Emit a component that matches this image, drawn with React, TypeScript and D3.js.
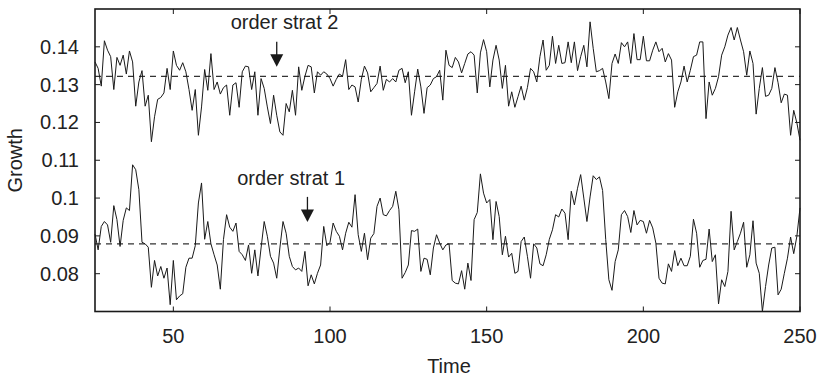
import React from "react";
import * as d3 from "d3";

const timeStart = 25;
const strat2: number[] = [
  0.1360, 0.1343, 0.1296, 0.1416, 0.1391, 0.1374, 0.1287, 0.1372, 0.1351, 0.1378,
  0.1328, 0.1389, 0.1360, 0.1243, 0.1307, 0.1337, 0.1243, 0.1272, 0.1149, 0.1215,
  0.1261, 0.1266, 0.1278, 0.1343, 0.1287, 0.1389, 0.1351, 0.1338, 0.1358, 0.1334,
  0.1287, 0.1232, 0.1287, 0.1166, 0.1241, 0.1340, 0.1285, 0.1382, 0.1287, 0.1307,
  0.1275, 0.1292, 0.1299, 0.1219, 0.1299, 0.1305, 0.1240, 0.1334, 0.1349, 0.1347,
  0.1287, 0.1334, 0.1219, 0.1316, 0.1290, 0.1241, 0.1197, 0.1272, 0.1219, 0.1175,
  0.1166, 0.1250, 0.1228, 0.1285, 0.1219, 0.1347, 0.1285, 0.1322, 0.1351, 0.1347,
  0.1278, 0.1334, 0.1325, 0.1334, 0.1328, 0.1316, 0.1296, 0.1314, 0.1328, 0.1322,
  0.1366, 0.1287, 0.1299, 0.1294, 0.1254, 0.1314, 0.1349, 0.1331, 0.1281, 0.1292,
  0.1303, 0.1349, 0.1285, 0.1314, 0.1307, 0.1316, 0.1307, 0.1338, 0.1343, 0.1305,
  0.1334, 0.1219, 0.1281, 0.1341, 0.1294, 0.1224, 0.1292, 0.1299, 0.1316, 0.1321,
  0.1338, 0.1259, 0.1391, 0.1351, 0.1345, 0.1372, 0.1360, 0.1331, 0.1356, 0.1381,
  0.1387, 0.1378, 0.1278, 0.1384, 0.1419, 0.1387, 0.1294, 0.1365, 0.1404, 0.1365,
  0.1290, 0.1351, 0.1243, 0.1281, 0.1240, 0.1268, 0.1296, 0.1259, 0.1292, 0.1343,
  0.1334, 0.1307, 0.1374, 0.1418, 0.1338, 0.1351, 0.1428, 0.1356, 0.1404, 0.1356,
  0.1358, 0.1413, 0.1358, 0.1413, 0.1337, 0.1374, 0.1404, 0.1347, 0.1466, 0.1396,
  0.1334, 0.1337, 0.1343, 0.1307, 0.1263, 0.1356, 0.1381, 0.1356, 0.1411, 0.1400,
  0.1413, 0.1356, 0.1435, 0.1366, 0.1366, 0.1428, 0.1363, 0.1363, 0.1391, 0.1413,
  0.1387, 0.1396, 0.1360, 0.1382, 0.1365, 0.1240, 0.1281, 0.1307, 0.1349, 0.1307,
  0.1338, 0.1374, 0.1378, 0.1413, 0.1413, 0.1210, 0.1307, 0.1272, 0.1290, 0.1321,
  0.1378, 0.1400, 0.1431, 0.1451, 0.1418, 0.1451, 0.1418, 0.1387, 0.1325, 0.1389,
  0.1356, 0.1222, 0.1290, 0.1345, 0.1269, 0.1272, 0.1290, 0.1345, 0.1305, 0.1252,
  0.1275, 0.1272, 0.1166, 0.1232, 0.1199, 0.1153,
];
const strat1: number[] = [
  0.0905, 0.0863, 0.0925, 0.0938, 0.0929, 0.0883, 0.0980, 0.0943, 0.0872, 0.0941,
  0.0974, 0.0967, 0.1088, 0.1075, 0.1022, 0.0883, 0.0879, 0.0870, 0.0764, 0.0835,
  0.0794, 0.0819, 0.0788, 0.0815, 0.0718, 0.0835, 0.0731, 0.0741, 0.0747, 0.0817,
  0.0841, 0.0841, 0.0874, 0.0987, 0.1040, 0.0891, 0.0938, 0.0879, 0.0850, 0.0823,
  0.0759, 0.0890, 0.0956, 0.0923, 0.0912, 0.0934, 0.0859, 0.0850, 0.0835, 0.0876,
  0.0801, 0.0863, 0.0794, 0.0868, 0.0938, 0.0899, 0.0846, 0.0828, 0.0788, 0.0868,
  0.0938, 0.0907, 0.0846, 0.0819, 0.0810, 0.0815, 0.0806, 0.0859, 0.0768, 0.0797,
  0.0773, 0.0801, 0.0823, 0.0925, 0.0874, 0.0883, 0.0934, 0.0912, 0.0899, 0.0863,
  0.0907, 0.0936, 0.0923, 0.1009, 0.0903, 0.0859, 0.0907, 0.0837, 0.0894, 0.0906,
  0.0978, 0.1000, 0.0956, 0.0953, 0.0967, 0.0978, 0.1018, 0.0969, 0.0788, 0.0803,
  0.0823, 0.0914, 0.0912, 0.0918, 0.0806, 0.0841, 0.0838, 0.0797, 0.0868, 0.0903,
  0.0881, 0.0863, 0.0876, 0.0879, 0.0782, 0.0775, 0.0773, 0.0808, 0.0759, 0.0828,
  0.0782, 0.0943, 0.0962, 0.1064, 0.1013, 0.0987, 0.0996, 0.0890, 0.0991, 0.0951,
  0.0850, 0.0899, 0.0844, 0.0854, 0.0801, 0.0806, 0.0885, 0.0897, 0.0846, 0.0788,
  0.0879, 0.0868, 0.0826, 0.0821, 0.0850, 0.0891, 0.0916, 0.0956, 0.0950, 0.0971,
  0.0960, 0.0890, 0.1018, 0.0982, 0.1026, 0.1062, 0.1000, 0.0938, 0.1003, 0.1059,
  0.1049, 0.1056, 0.1020, 0.0890, 0.0784, 0.0756, 0.0832, 0.0863, 0.0956, 0.0967,
  0.0951, 0.0909, 0.0967, 0.0929, 0.0941, 0.0938, 0.0907, 0.0941, 0.0921, 0.0881,
  0.0788, 0.0775, 0.0773, 0.0826, 0.0806, 0.0861, 0.0821, 0.0841, 0.0821, 0.0821,
  0.0846, 0.0944, 0.0907, 0.0817, 0.0835, 0.0838, 0.0918, 0.0832, 0.0850, 0.0720,
  0.0784, 0.0766, 0.0806, 0.0965, 0.0863, 0.0885, 0.0907, 0.0936, 0.0817, 0.0850,
  0.0940, 0.0828, 0.0801, 0.0700, 0.0766, 0.0823, 0.0868, 0.0870, 0.0744, 0.0759,
  0.0801, 0.0841, 0.0897, 0.0853, 0.0899, 0.0974,
];
const meanLevels: number[] = [0.1322, 0.0879];
const xTicks: number[] = [50, 100, 150, 200, 250];
const yTicks: number[] = [0.08, 0.09, 0.1, 0.11, 0.12, 0.13, 0.14];
const yTickLabels: string[] = ["0.08", "0.09", "0.1", "0.11", "0.12", "0.13", "0.14"];
const annotLabels: string[] = ["order strat 2", "order strat 1"];
const annotArrowTime: number[] = [83, 92.8];
const annotArrowTip: number[] = [0.1347, 0.0937];
const annotTextTime: number[] = [85.5, 87.6];
const annotTextValue: number[] = [0.1447, 0.1034];

const W = 824;
const H = 379;
const L = 95, R = 800, T = 9, B = 311.5;
const FONT = "'Liberation Sans', Arial, Helvetica, sans-serif";

export default function App() {
  const x = d3.scaleLinear().domain([25, 250]).range([L, R]);
  const y = d3.scaleLinear().domain([0.07, 0.15]).range([B, T]);
  const line = d3
    .line<number>()
    .x((_, i) => x(timeStart + i))
    .y((d) => y(d));
  const tick = 5;
  return (
    <svg
      width={W}
      height={H}
      style={{ position: "absolute", left: 0, top: 0, background: "#fff" }}
      fontFamily={FONT}
    >
      <rect x={0} y={0} width={W} height={H} fill="#fff" />
      {meanLevels.map((m, i) => (
        <line
          key={"m" + i}
          x1={L}
          x2={R}
          y1={y(m)}
          y2={y(m)}
          stroke="#333"
          strokeWidth={1.2}
          strokeDasharray="6,5"
        />
      ))}
      <path d={line(strat2) || ""} fill="none" stroke="#1a1a1a" strokeWidth={1} strokeLinejoin="miter" />
      <path d={line(strat1) || ""} fill="none" stroke="#1a1a1a" strokeWidth={1} strokeLinejoin="miter" />
      <rect x={L} y={T} width={R - L} height={B - T} fill="none" stroke="#1a1a1a" strokeWidth={1.6} />
      {xTicks.map((t) => (
        <g key={"xt" + t}>
          <line x1={x(t)} x2={x(t)} y1={B} y2={B - tick} stroke="#1a1a1a" strokeWidth={1} />
          <line x1={x(t)} x2={x(t)} y1={T} y2={T + tick} stroke="#1a1a1a" strokeWidth={1} />
          <text x={x(t)} y={343} textAnchor="middle" fontSize={20} fill="#222">
            {t}
          </text>
        </g>
      ))}
      {yTicks.map((v, i) => (
        <g key={"yt" + i}>
          <line x1={L} x2={L + tick} y1={y(v)} y2={y(v)} stroke="#1a1a1a" strokeWidth={1} />
          <line x1={R} x2={R - tick} y1={y(v)} y2={y(v)} stroke="#1a1a1a" strokeWidth={1} />
          <text x={79} y={y(v) + 7} textAnchor="end" fontSize={20} fill="#222">
            {yTickLabels[i]}
          </text>
        </g>
      ))}
      <text x={449} y={373} textAnchor="middle" fontSize={20} fill="#222">
        Time
      </text>
      <text
        transform={`translate(22,${(T + B) / 2}) rotate(-90)`}
        textAnchor="middle"
        fontSize={20}
        fill="#222"
      >
        Growth
      </text>
      {annotLabels.map((lab, i) => {
        const ax = x(annotArrowTime[i]);
        const tip = y(annotArrowTip[i]);
        return (
          <g key={"a" + i}>
            <line x1={ax} x2={ax} y1={tip - 25} y2={tip - 10} stroke="#1a1a1a" strokeWidth={1.3} />
            <path d={`M${ax - 6.5},${tip - 12.5} L${ax + 6.5},${tip - 12.5} L${ax},${tip} Z`} fill="#1a1a1a" />
            <text
              x={x(annotTextTime[i])}
              y={y(annotTextValue[i])}
              textAnchor="middle"
              fontSize={20}
              fill="#222"
            >
              {lab}
            </text>
          </g>
        );
      })}
    </svg>
  );
}
